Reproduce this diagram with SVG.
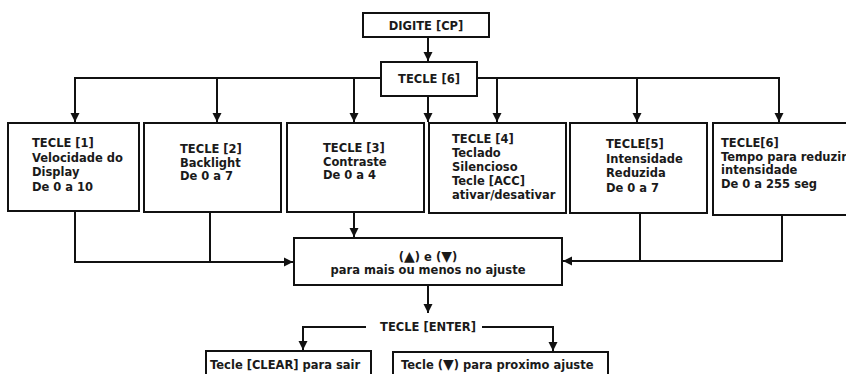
<svg xmlns="http://www.w3.org/2000/svg" width="846" height="374" viewBox="0 0 846 374">
<style>
.box{fill:#fff;stroke:#111;stroke-width:2}
.t{font-family:"DejaVu Sans",Verdana,sans-serif;font-weight:bold;font-size:11.5px;fill:#1a1a1a}
.c{text-anchor:middle}
.tr{font-size:14px}
.ln{fill:none;stroke:#111;stroke-width:2}
</style>
<defs>
<marker id="ah" markerUnits="userSpaceOnUse" markerWidth="10" markerHeight="10" viewBox="0 0 10 10" refX="9" refY="5" orient="auto">
<path d="M0,0.5 L9,5 L0,9.5 Z" fill="#111"/>
</marker>
</defs>
<rect width="846" height="374" fill="#fff"/>
<g id="connectors">
<path class="ln" d="M428,37 V61" marker-end="url(#ah)"/>
<path class="ln" d="M381,78 H75 V122" marker-end="url(#ah)"/>
<path class="ln" d="M477,78 H779 V122" marker-end="url(#ah)"/>
<path class="ln" d="M217,78 V122" marker-end="url(#ah)"/>
<path class="ln" d="M354,78 V122" marker-end="url(#ah)"/>
<path class="ln" d="M428,96 V122" marker-end="url(#ah)"/>
<path class="ln" d="M497,78 V122" marker-end="url(#ah)"/>
<path class="ln" d="M637,78 V122" marker-end="url(#ah)"/>
<path class="ln" d="M75,211 V262 H293" marker-end="url(#ah)"/>
<path class="ln" d="M210,212 V262"/>
<path class="ln" d="M354,212 V237" marker-end="url(#ah)"/>
<path class="ln" d="M782,215 V261 H563" marker-end="url(#ah)"/>
<path class="ln" d="M640,213 V261"/>
<path class="ln" d="M428,285 V313" marker-end="url(#ah)"/>
<path class="ln" d="M366,327 H303 V350" marker-end="url(#ah)"/>
<path class="ln" d="M482,327 H553 V351" marker-end="url(#ah)"/>
</g>
<g id="digite">
<rect class="box" x="363" y="13" width="126" height="24"/>
<text class="t c" x="426" y="30">DIGITE [CP]</text>
</g>
<g id="tecle6">
<rect class="box" x="381" y="62" width="96" height="34"/>
<text class="t c" x="429" y="83">TECLE [6]</text>
</g>
<g id="box1">
<rect class="box" x="8" y="123" width="131" height="88"/>
<text class="t" x="32" y="147">TECLE [1]</text>
<text class="t" x="32" y="161.5">Velocidade do</text>
<text class="t" x="32" y="176">Display</text>
<text class="t" x="32" y="190.5">De 0 a 10</text>
</g>
<g id="box2">
<rect class="box" x="144" y="123" width="137" height="89"/>
<text class="t" x="180" y="153">TECLE [2]</text>
<text class="t" x="180" y="166.5">Backlight</text>
<text class="t" x="180" y="180">De 0 a 7</text>
</g>
<g id="box3">
<rect class="box" x="287" y="123" width="137" height="89"/>
<text class="t" x="323" y="152">TECLE [3]</text>
<text class="t" x="323" y="165.5">Contraste</text>
<text class="t" x="323" y="179">De 0 a 4</text>
</g>
<g id="box4">
<rect class="box" x="429" y="123" width="137" height="90"/>
<text class="t" x="452" y="143">TECLE [4]</text>
<text class="t" x="452" y="157">Teclado</text>
<text class="t" x="452" y="171">Silencioso</text>
<text class="t" x="452" y="185">Tecle [ACC]</text>
<text class="t" x="452" y="199">ativar/desativar</text>
</g>
<g id="box5">
<rect class="box" x="570" y="123" width="137" height="90"/>
<text class="t" x="606" y="148">TECLE[5]</text>
<text class="t" x="606" y="162.5">Intensidade</text>
<text class="t" x="606" y="177">Reduzida</text>
<text class="t" x="606" y="191.5">De 0 a 7</text>
</g>
<g id="box6">
<rect class="box" x="713" y="123" width="140" height="92"/>
<text class="t" x="721" y="147">TECLE[6]</text>
<text class="t" x="721" y="160.5">Tempo para reduzir</text>
<text class="t" x="721" y="174">intensidade</text>
<text class="t" x="721" y="187.5">De 0 a 255 seg</text>
</g>
<g id="ajuste">
<rect class="box" x="294" y="238" width="268" height="47"/>
<text class="t c" x="428" y="261">(<tspan class="tr">▲</tspan>) e (<tspan class="tr">▼</tspan>)</text>
<text class="t c" x="428" y="274">para mais ou menos no ajuste</text>
</g>
<g id="enter">
<text class="t c" x="428" y="331">TECLE [ENTER]</text>
</g>
<g id="clear">
<rect class="box" x="206" y="351" width="165" height="30"/>
<text class="t" x="210" y="369">Tecle [CLEAR] para sair</text>
</g>
<g id="proximo">
<rect class="box" x="393" y="352" width="215" height="30"/>
<text class="t" x="401" y="369">Tecle (<tspan class="tr">▼</tspan>)  para proximo ajuste</text>
</g>
</svg>
